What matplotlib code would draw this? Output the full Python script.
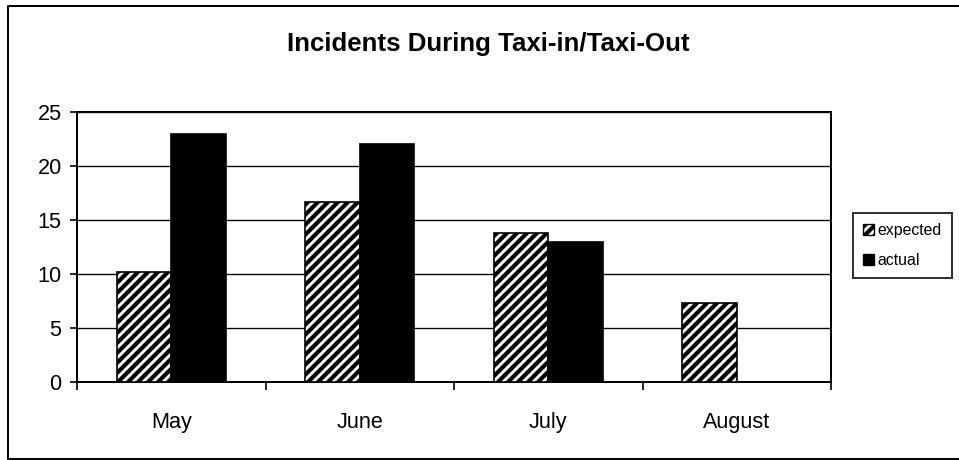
import matplotlib
matplotlib.use("Agg")
import matplotlib.pyplot as plt
import numpy as np
from matplotlib.lines import Line2D
from matplotlib.patches import Patch

# dpi 120 so that the '////' hatch repeats every 10 px, like the reference
DPI = 120
plt.rcParams.update({
    "font.family": ["Liberation Sans", "DejaVu Sans"],
    "hatch.linewidth": 2.5,
    "hatch.color": "black",
})

months = ["May", "June", "July", "August"]
expected = [10.2, 16.7, 13.8, 7.3]
actual = [23, 22, 13, 0]
y_ticks = [0, 5, 10, 15, 20, 25]

fig = plt.figure(figsize=(959 / DPI, 460 / DPI), dpi=DPI)
ax = fig.add_axes([77 / 959, 1 - 382 / 460, (831 - 77) / 959, (382 - 112) / 460])

x = np.arange(len(months))
w = 0.289
ax.bar(x - w / 2, expected, w, color="white", edgecolor="black", hatch="////",
       linewidth=1.0, label="expected", zorder=3)
ax.bar(x + w / 2, actual, w, color="black", edgecolor="black",
       linewidth=1.0, label="actual", zorder=3)

ax.set_xlim(-0.5, len(months) - 0.5)
ax.set_ylim(0, 25)
ax.set_yticks(y_ticks)
ax.yaxis.grid(True, color="black", lw=0.8, zorder=1)
ax.set_axisbelow(True)
ax.tick_params(axis="y", length=4.2, width=1.0, pad=5, labelsize=13)

# boundary ticks as major, month labels on minor ticks
ax.set_xticks(np.arange(len(months) + 1) - 0.5)
ax.set_xticklabels([])
ax.set_xticks(x, minor=True)
ax.set_xticklabels(months, minor=True)
ax.tick_params(axis="x", which="major", length=4.8, width=1.0)
ax.tick_params(axis="x", which="minor", length=0, pad=18, labelsize=13)
for s in ax.spines.values():
    s.set_linewidth(1.2)

fig.text(488 / 959, 1 - 44 / 460, "Incidents During Taxi-in/Taxi-Out",
         ha="center", va="center", fontsize=15.5, fontweight="bold")

handles = [Patch(facecolor="white", edgecolor="black", hatch="////", lw=0.8),
           Patch(facecolor="black", edgecolor="black", lw=0.8)]
leg = fig.legend(handles, ["expected", "actual"], loc="center left",
                 bbox_to_anchor=(853 / 959, 1 - 245.5 / 460), fontsize=9.5,
                 frameon=True, fancybox=False, edgecolor="black",
                 handlelength=0.7, handleheight=0.7, handletextpad=0.2,
                 borderpad=0.65, labelspacing=0.95, borderaxespad=0)
leg.get_frame().set_linewidth(1.2)

# outer chart border (left, top, bottom)
bx0, bx1 = 8 / 959, 958 / 959
by0, by1 = 1 - 459 / 460, 1 - 6 / 460
fig.add_artist(Line2D([bx1, bx0, bx0, bx1], [by1, by1, by0, by0],
                      transform=fig.transFigure, color="black", lw=1.2))

fig.savefig("out.png", dpi=DPI)
